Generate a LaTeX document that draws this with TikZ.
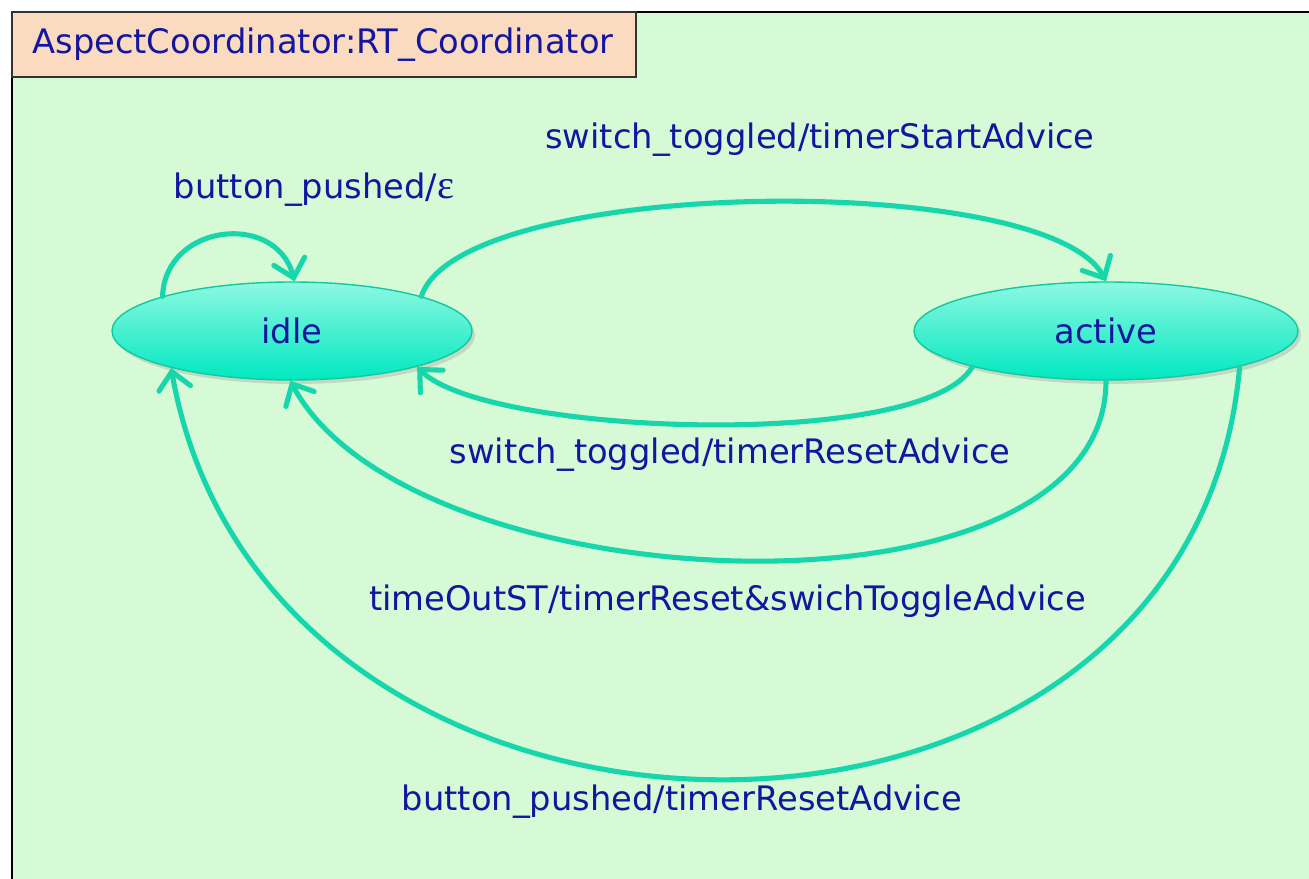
\documentclass[tikz,border=0pt]{standalone}
\usepackage{fontspec}
\setmainfont{DejaVu Sans}
\newfontfamily\epsfont{Liberation Serif}
\usetikzlibrary{arrows.meta,shapes.geometric}
\definecolor{bgGreen}{RGB}{213,250,213}
\definecolor{titlePeach}{RGB}{251,219,192}
\definecolor{txtBlue}{RGB}{20,22,160}
\definecolor{edgeTeal}{RGB}{24,214,172}
\definecolor{stateTop}{RGB}{142,248,226}
\definecolor{stateBot}{RGB}{0,232,192}
\definecolor{stateLine}{RGB}{20,200,160}
\tikzset{
    state/.style = {ellipse, draw = stateLine, line width = 0.8pt, top color = stateTop,
        bottom color = stateBot, text = txtBlue, inner sep = 0pt},
    trans/.style = {draw = edgeTeal, line width = 2.9pt, line cap = round,
        -{Straight Barb[length = 3.4mm, width = 6.4mm, line cap = round]}},
    lbl/.style = {text = txtBlue, inner sep = 0pt}
}
\begin{document}
\begin{tikzpicture}[scale = 1, font = \fontsize{19.2}{22}\selectfont]
    \useasboundingbox (0,0) rectangle (26.18,17.58);
    \clip (0,0) rectangle (26.18,17.58);
    \fill[white] (0,0) rectangle (26.18,17.58);
    \draw[fill = bgGreen, line width = 1.2pt] (0.24,-1) rectangle (27,17.34);
    % title tab
    \draw[fill = titlePeach, draw = black!80, line width = 0.8pt] (0.24,17.34) rectangle (12.72,16.04);
    \node[lbl] (title) at (6.46,16.68) {AspectCoordinator:RT\_Coordinator};
    % states
    \fill[black!35, opacity = 0.4] (5.9,10.88) ellipse (3.6cm and 0.98cm);
    \fill[black!35, opacity = 0.4] (22.18,10.88) ellipse (3.84cm and 0.98cm);
    \node[state, minimum width = 7.2cm, minimum height = 1.96cm] (idle) at (5.84,10.96) {idle};
    \node[state, minimum width = 7.68cm, minimum height = 1.96cm] (active) at (22.12,10.96) {active};
    % transitions
    \draw[trans] (idle.165) to[out = 88, in = 105, looseness = 1.4] (idle.87);
    \draw[trans] (idle.15) to[out = 72, in = 118, looseness = 0.47] (active.90);
    \draw[trans] (active.195) to[out = 240, in = -45, looseness = 0.45] (idle.-16);
    \draw[trans] (active.270) to[out = -90, in = -62, looseness = 0.8] (idle.268);
    \draw[trans] (active.-15) to[out = -95, in = -80, looseness = 1.33] (idle.197);
    % labels
    \node[lbl] (eps) at (6.28,13.78) {button\_pushed/{\epsfont\fontsize{23}{24}\selectfont ε}};
    \node[lbl] (start) at (16.4,14.78) {switch\_toggled/timerStartAdvice};
    \node[lbl] (reset) at (14.6,8.48) {switch\_toggled/timerResetAdvice};
    \node[lbl] (timeout) at (14.55,5.56) {timeOutST/timerReset\&swichToggleAdvice};
    \node[lbl] (push) at (13.64,1.54) {button\_pushed/timerResetAdvice};
\end{tikzpicture}
\end{document}
